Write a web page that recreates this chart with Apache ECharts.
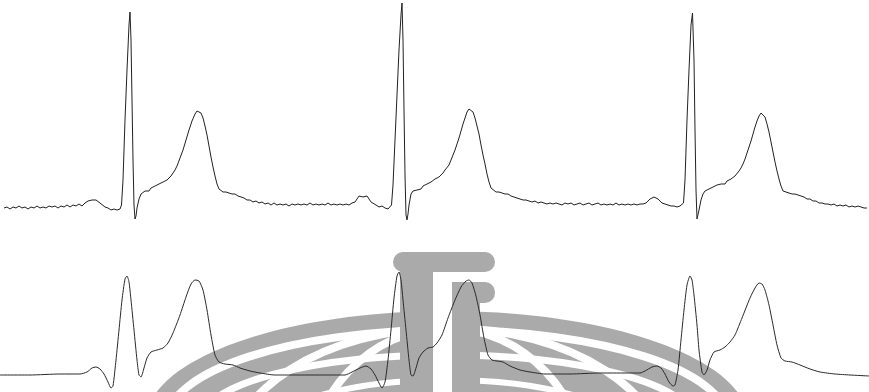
<!DOCTYPE html>
<html>
<head>
<meta charset="utf-8">
<script src="https://cdn.jsdelivr.net/npm/echarts@6/dist/echarts.min.js"></script>
<style>html,body{margin:0;padding:0;background:#fff}#c{width:869px;height:392px}</style>
</head>
<body>
<div id="c"></div>
<script>
// Upper lead: raw (noisy) ECG, [sample index, mV]
const topLead = [
[4,-0.02],[7,-0.01],[10,-0.03],[13,-0.01],[16,-0.02],[19,0],[22,-0.02],[25,-0.01],[28,-0.03],[31,-0.01],[34,-0.02],[37,0],[40,-0.02],[43,-0.01],[46,-0.02],[49,0],[52,-0.01],[55,0],[58,-0.02],[61,0],[64,-0.01],[67,0.01],[70,-0.01],[73,0.01],[76,0],[79,0.02],[82,0],[85,0.03],
[88,0.05],[90,0.07],[92,0.06],[94,0.08],[96,0.06],[98,0.07],[100,0.03],[102,0.02],[105,-0.01],[108,-0.02],[111,-0.04],[114,-0.03],[117,-0.04],[120,-0.03],[121.5,0.01],
[123,0.26],[125,0.86],[127,1.36],[129,1.81],[130,1.94],[131,1.66],[132,1.06],[133,0.46],[134,0.01],[135,-0.13],[136,-0.10],[137,-0.02],[139,0.07],[141,0.12],[143,0.13],[145,0.15],[147,0.16],[149,0.15],[151,0.18],[153,0.17],[155,0.20],[157,0.19],[159,0.22],[161,0.21],[163,0.24],[165,0.24],[167,0.26],[169,0.28],[171,0.30],[173,0.32],[175,0.36],[177,0.40],[180,0.48],[183,0.56],[186,0.66],[189,0.76],[192,0.85],[195,0.92],[197,0.95],[199,0.96],[201,0.93],[203,0.88],[205,0.80],[207,0.71],[209,0.60],[211,0.49],[213,0.39],[215,0.30],[217,0.22],[219,0.17],[221,0.16],[223,0.14],[226,0.14],[229,0.13],[232,0.12],[235,0.12],[238,0.10],[241,0.09],[244,0.08],[247,0.06],[250,0.06],[253,0.04],[256,0.05],[259,0.03],[262,0.04],[265,0.02],[268,0.03],[271,0.01],[274,0.03],[277,0.01],[280,0.02],[283,0.01],[286,0.02],[289,0],[292,0.02],[295,0.01],[298,0.02],
[301,0.01],[304,0.02],[307,0.01],[310,0.03],[313,0.01],[316,0.02],[319,0.01],[322,0.02],[325,0.01],[328,0.03],[331,0.01],[334,0.02],[337,0.01],[340,0.02],[343,0.01],[346,0.02],[349,0.01],[352,0.03],[355,0.04],
[357,0.07],[359,0.10],[361,0.11],[363,0.09],[365,0.10],[367,0.10],[369,0.07],[371,0.04],[373,0.02],[376,0.01],[379,-0.01],[382,0],[385,-0.02],[388,-0.03],[390,-0.03],[391.5,0.01],
[393,0.21],[395,0.66],[397,1.11],[399,1.56],[401,1.91],[402,2.03],[403,1.66],[404,0.96],[405,0.31],[406,-0.09],[407,-0.14],[408,-0.08],[409,0.01],[411,0.12],[413,0.15],[415,0.16],[417,0.16],[419,0.18],[421,0.17],[423,0.20],[425,0.19],[427,0.22],[429,0.21],[431,0.24],[433,0.23],[435,0.27],[437,0.26],[439,0.29],[441,0.31],[443,0.33],[445,0.36],[447,0.38],[449,0.41],[451,0.46],[453,0.51],[455,0.56],[457,0.62],[459,0.68],[461,0.75],[463,0.82],[465,0.88],[467,0.94],[469,0.97],[471,0.97],[473,0.94],[475,0.88],[477,0.80],[479,0.72],[481,0.61],[483,0.51],[485,0.42],[487,0.32],[489,0.24],[491,0.18],[493,0.16],[496,0.14],[499,0.14],[502,0.13],[505,0.12],[508,0.12],[511,0.10],[514,0.09],[517,0.08],[520,0.07],[523,0.06],[526,0.06],[529,0.05],[532,0.04],[535,0.05],[538,0.03],[541,0.04],[544,0.03],[547,0.02],[550,0.03],[553,0.02],[556,0.03],[559,0.02],[562,0.01],[565,0.03],[568,0.02],[571,0.03],[574,0.01],[577,0.02],[580,0.03],[583,0.01],[586,0.02],[589,0.03],[592,0.01],[595,0.02],[598,0.03],
[601,0.01],[604,0.02],[607,0.01],[610,0.02],[613,0.01],[616,0.03],[619,0.01],[622,0.02],[625,0.01],[628,0.02],[631,0.01],[634,0.02],[637,0.01],[640,0.02],[643,0.02],[646,0.03],
[648,0.05],[650,0.07],[652,0.08],[654,0.09],[656,0.08],[658,0.07],[660,0.05],[662,0.03],[665,0.02],[668,0.01],[671,0],[674,0],[677,-0.01],[680,0],[682,0],[683.5,0.03],
[685,0.26],[687,0.86],[689,1.36],[691,1.81],[692.5,1.93],[694,1.46],[695,0.76],[696,0.16],[697,-0.13],[698,-0.11],[699,-0.04],[701,0.06],[703,0.12],[705,0.15],[707,0.16],[709,0.17],[711,0.16],[713,0.19],[715,0.18],[717,0.21],[719,0.20],[721,0.22],[723,0.23],[725,0.22],[727,0.25],[729,0.26],[731,0.27],[733,0.28],[735,0.30],[737,0.32],[739,0.35],[741,0.38],[743,0.42],[745,0.47],[747,0.53],[749,0.59],[751,0.65],[753,0.72],[755,0.79],[757,0.85],[759,0.90],[761,0.93],[763,0.93],[765,0.89],[767,0.82],[769,0.74],[771,0.64],[773,0.54],[775,0.44],[777,0.35],[779,0.27],[781,0.20],[783,0.15],[786,0.14],[789,0.13],[792,0.12],[795,0.12],[798,0.11],[801,0.10],[804,0.09],[807,0.07],[810,0.07],[813,0.05],[816,0.05],[819,0.03],[822,0.03],[825,0.02],[828,0.02],[831,0.01],[834,0.02],[837,0],[840,0.01],[843,0],[846,0.01],[849,-0.01],[852,0],[855,-0.01],[858,0],[861,-0.01],[864,-0.02],[867,-0.02]
];

// Lower lead: filtered (smooth) ECG, [sample index, mV]
const bottomLead = [
[0,-0.01],[5,-0.01],[30,-0.01],[60,0],[80,0],[87,0.02],[92,0.06],[96,0.07],[100,0.05],[104,0],[108,-0.08],[111,-0.14],[113,-0.12],[116,0.14],[119,0.44],[122,0.74],[125,0.95],[127,0.98],[129,0.92],[131,0.74],[134,0.44],[137,0.14],[139,-0.01],[141,-0.03],[144,0.06],[147,0.16],[151,0.22],[157,0.24],[163,0.26],[168,0.31],[173,0.41],[180,0.59],[186,0.77],[191,0.90],[195,0.94],[199,0.93],[203,0.84],[207,0.64],[211,0.39],[215,0.19],[219,0.12],[225,0.10],[233,0.09],[240,0.06],[250,0.03],[260,0.01],[275,-0.01],[290,-0.01],[300,-0.01],
[320,-0.01],[345,-0.01],[352,0.02],[360,0.06],[366,0.08],[371,0.05],[375,-0.01],[379,-0.09],[382,-0.14],[385,-0.08],[388,0.14],[391,0.44],[394,0.76],[397,0.98],[399,1.02],[401,0.94],[403,0.74],[406,0.44],[409,0.14],[411,-0.01],[413,-0.02],[416,0.06],[419,0.16],[423,0.22],[428,0.26],[433,0.27],[437,0.31],[442,0.39],[448,0.56],[455,0.74],[461,0.87],[466,0.93],[469,0.94],[472,0.91],[476,0.78],[480,0.59],[484,0.36],[488,0.19],[492,0.14],[497,0.13],[503,0.12],[510,0.08],[520,0.04],[530,0.02],[545,0],[570,0],[600,0.01],
[610,0.01],[640,0.01],[645,0.03],[652,0.07],[657,0.08],[661,0.06],[665,0],[669,-0.08],[673,-0.12],[675,-0.11],[678,0.04],[681,0.34],[684,0.64],[687,0.89],[690,0.98],[692,0.94],[694,0.79],[697,0.49],[699,0.24],[702,0.02],[704,-0.01],[707,0.04],[710,0.14],[714,0.22],[720,0.24],[725,0.27],[730,0.32],[735,0.39],[742,0.56],[750,0.76],[755,0.86],[759,0.91],[762,0.90],[765,0.84],[769,0.69],[773,0.49],[777,0.29],[781,0.16],[785,0.13],[792,0.12],[800,0.09],[810,0.05],[820,0.02],[835,0],[850,-0.01],[869,-0.02]
];

const WM = '#aaaaaa';
const chart = echarts.init(document.getElementById('c'), null, {renderer: 'canvas'});
const hiddenX = (i) => ({gridIndex: i, type: 'value', min: 0, max: 869, show: false});
const gap = (cx, cy, rx, ry, w) => ({type: 'ellipse', z: 0, silent: true, shape: {cx, cy, rx, ry}, style: {fill: null, stroke: '#ffffff', lineWidth: w}});
chart.setOption({
  animation: false,
  backgroundColor: '#ffffff',
  grid: [
    {left: 0, right: 0, top: 0, height: 230},
    {left: 0, right: 0, top: 240, height: 152}
  ],
  xAxis: [hiddenX(0), hiddenX(1)],
  yAxis: [
    {gridIndex: 0, type: 'value', min: -0.24, max: 2.06, show: false},
    {gridIndex: 1, type: 'value', min: -0.18, max: 1.34, show: false}
  ],
  graphic: [
    // watermark globe: gray dome with white latitude / meridian gaps
    {type: 'ellipse', z: 0, silent: true, shape: {cx: 447, cy: 421, rx: 301, ry: 110}, style: {fill: WM}},
    gap(447, 421, 280, 91, 8),
    gap(447, 421, 246, 66, 7),
    gap(447, 470, 222, 142, 8),
    gap(447, 478, 140, 150, 8),
    gap(447, 440, 190, 60, 6),
    // logo
    {type: 'rect', z: 1, silent: true, shape: {x: 400, y: 262, width: 33, height: 130}, style: {fill: WM}},
    {type: 'rect', z: 1, silent: true, shape: {x: 452, y: 282, width: 28, height: 110}, style: {fill: WM}},
    {type: 'rect', z: 1, silent: true, shape: {x: 452, y: 282, width: 43, height: 21, r: [0, 10, 10, 0]}, style: {fill: WM}},
    {type: 'rect', z: 1, silent: true, shape: {x: 433, y: 272, width: 19, height: 120}, style: {fill: '#ffffff'}},
    {type: 'rect', z: 1, silent: true, shape: {x: 480, y: 303, width: 20, height: 8}, style: {fill: '#ffffff'}},
    {type: 'rect', z: 1, silent: true, shape: {x: 393, y: 252, width: 102, height: 20, r: 10}, style: {fill: WM}}
  ],
  series: [
    {type: 'line', xAxisIndex: 0, yAxisIndex: 0, data: topLead, showSymbol: false, z: 10,
     lineStyle: {color: '#222222', width: 1}},
    {type: 'line', xAxisIndex: 1, yAxisIndex: 1, data: bottomLead, showSymbol: false, smooth: 0.2, z: 10,
     lineStyle: {color: '#2a2a2a', width: 1}}
  ]
});
</script>
</body>
</html>
